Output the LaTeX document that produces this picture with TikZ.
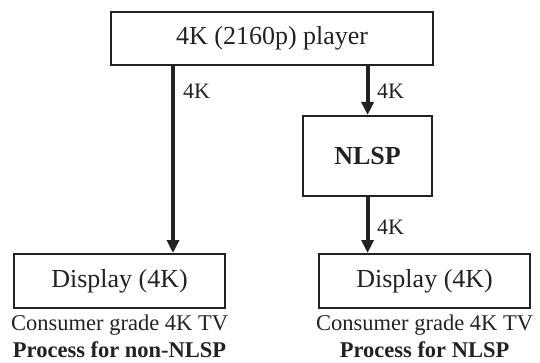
\documentclass[tikz,border=0pt]{standalone}
\usepackage{fontspec}
\setmainfont{Liberation Serif}
\usetikzlibrary{arrows.meta}
\definecolor{ink}{HTML}{222222}
\tikzset{
  box/.style={draw=ink, line width=2.2pt, inner sep=0pt, text=ink,
              font=\fontsize{26}{30}\selectfont, anchor=north west},
  flow/.style={draw=ink, line width=4pt, -{Triangle[length=13pt,width=12pt]}},
  rate/.style={anchor=west, inner sep=0pt, text=ink, font=\fontsize{22}{26}\selectfont},
  caption/.style={anchor=base, inner sep=0pt, text=ink, font=\fontsize{22.5}{26}\selectfont},
}
\begin{document}
\begin{tikzpicture}[x=1pt, y=-1pt]
  \useasboundingbox (0,0) rectangle (540,363);

  % boxes (given by their top-left corner and size)
  \node[box, minimum width=322pt, minimum height=53pt] (player) at (110,11) {4K (2160p) player};
  \node[box, minimum width=129pt, minimum height=80pt, font=\fontsize{26}{30}\selectfont\bfseries] (nlsp) at (302,115) {NLSP};
  \node[box, minimum width=211pt, minimum height=54pt] (disp1) at (13,253) {Display (4K)};
  \node[box, minimum width=211pt, minimum height=54pt] (disp2) at (318,253) {Display (4K)};

  % entry point of the direct path on the left display
  \path (disp1.north west) ++(160,0) coordinate (in1);

  % connectors
  \draw[flow] (in1 |- player.south) -- (in1);
  \draw[flow] (nlsp.north |- player.south) -- (nlsp.north);
  \draw[flow] (nlsp.south) -- (nlsp.south |- disp2.north);

  % signal labels
  \node[rate] (r1) at (183,91) {4K};
  \node[rate] (r2) at (377,91) {4K};
  \node[rate] (r3) at (377,227) {4K};

  % captions
  \node[caption] (c1) at (disp1.center |- 0,330) {Consumer grade 4K TV};
  \node[caption, font=\fontsize{22.5}{26}\selectfont\bfseries] (p1) at (disp1.center |- 0,357) {Process for non-NLSP};
  \node[caption] (c2) at (disp2.center |- 0,330) {Consumer grade 4K TV};
  \node[caption, font=\fontsize{22.5}{26}\selectfont\bfseries] (p2) at (disp2.center |- 0,357) {Process for NLSP};
\end{tikzpicture}
\end{document}
